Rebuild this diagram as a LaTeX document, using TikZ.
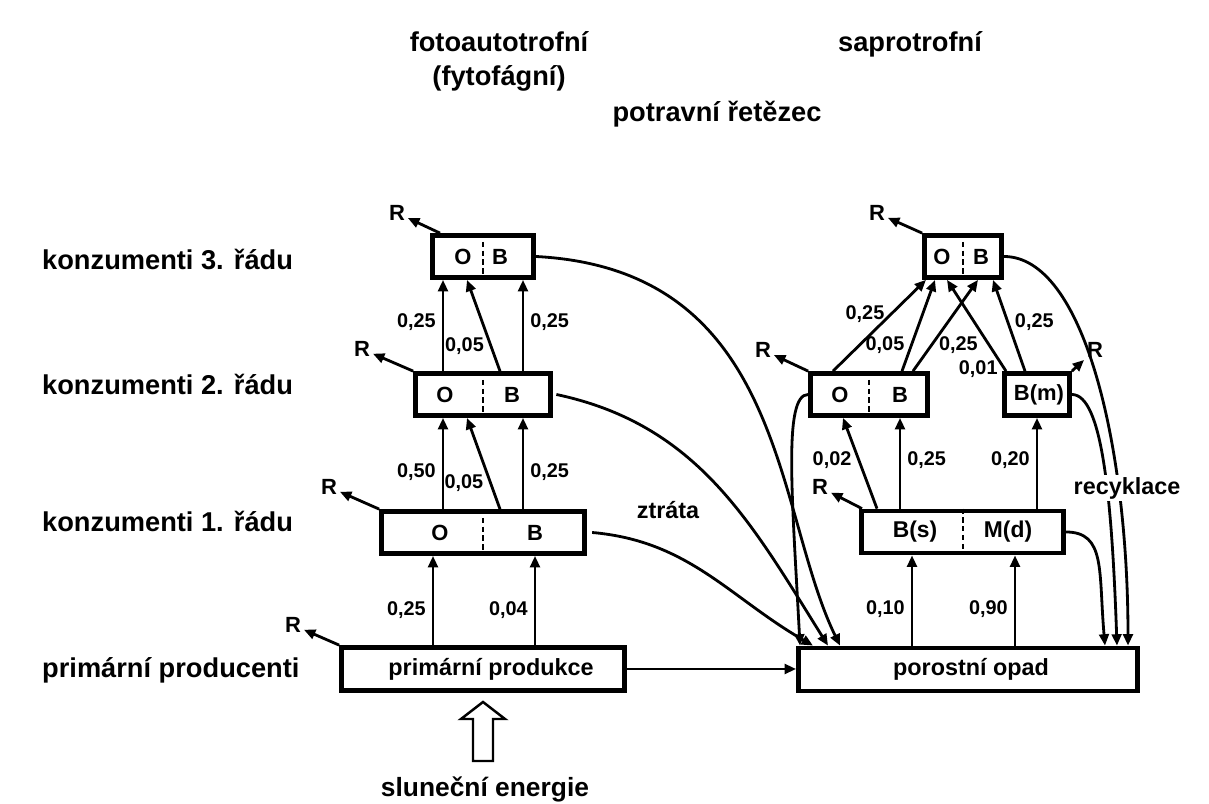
\documentclass[tikz,border=0pt]{standalone}
\usepackage{fontspec}
\setmainfont{Liberation Sans}
\usetikzlibrary{arrows.meta}

\begin{document}
\begin{tikzpicture}[x=0.2mm,y=0.2mm,>={Triangle[length=6.5pt,width=5.5pt]},
  level/.style={anchor=base west,font=\fontsize{15.5}{18}\selectfont\bfseries},
  head/.style={anchor=base,font=\fontsize{15.5}{18}\selectfont\bfseries},
  main box/.style={draw,line width=2.7pt,minimum height=8.4mm,inner sep=0pt},
  part/.style={font=\fontsize{12.5}{14}\selectfont\bfseries},
  big/.style={font=\fontsize{13.3}{15}\selectfont\bfseries},
  rate/.style={font=\fontsize{11.3}{13}\selectfont\bfseries},
  resp/.style={font=\fontsize{12.5}{14}\selectfont\bfseries,inner sep=1.5pt},
  flow/.style={->,line width=1.6pt},
  split/.style={dash pattern=on 3pt off 2pt,line width=0.9pt}]

\useasboundingbox (0,0) rectangle (1209,804);

% headings
\node[head] (auto) at (499,752) {fotoautotrofní};
\node[head] (fyto) at (499,718) {(fytofágní)};
\node[head] (sapro) at (910,752) {saprotrofní};
\node[head] (chain) at (717,682) {potravní řetězec};

% levels
\node[level] (k3) at (36,534) {konzumenti 3. řádu};
\node[level] (k2) at (36,409) {konzumenti 2. řádu};
\node[level] (k1) at (36,272) {konzumenti 1. řádu};
\node[level] (pp) at (36,126) {primární producenti};

% boxes, left chain
\node[main box,minimum width=20.2mm] (l3) at (483,547.5) {};
\node[main box,minimum width=27mm] (l2) at (483,409.5) {};
\node[main box,minimum width=40.6mm] (l1) at (483,271.5) {};
\node[main box,minimum width=56.6mm,minimum height=8.6mm] (prim) at (483,135) {};
% boxes, right chain
\node[main box,minimum width=15.4mm] (r3) at (963,547.5) {};
\node[main box,minimum width=23.4mm] (r2o) at (869,409.5) {};
\node[main box,minimum width=13mm] (r2m) at (1037,409.5) {};
\node[main box,minimum width=40.4mm] (r1) at (962.5,272) {};
\node[main box,minimum width=67.8mm,minimum height=8.6mm] (opad) at (968,134.5) {};

\foreach \b/\x in {l3/483,l2/483,l1/483,r3/963,r2o/869,r1/963}
  \draw[split] (\b.north -| \x,0) -- (\b.south -| \x,0);

\node[part] (l3o) at (463,547.5) {O};
\node[part] (l3b) at (500,547.5) {B};
\node[part] (l2o) at (445,409.5) {O};
\node[part] (l2b) at (512,409.5) {B};
\node[part] (l1o) at (440,271.5) {O};
\node[part] (l1b) at (535,271.5) {B};
\node[big] (primt) at (491,135) {primární produkce};
\node[part] (r3o) at (942,547.5) {O};
\node[part] (r3b) at (981,547.5) {B};
\node[part] (r2oo) at (840,409.5) {O};
\node[part] (r2ob) at (900,409.5) {B};
\node[part] (r2mb) at (1039,409.5) {B(m)};
\node[part,font=\fontsize{13}{15}\selectfont\bfseries] (r1s) at (915,272) {B(s)};
\node[part,font=\fontsize{13}{15}\selectfont\bfseries] (r1d) at (1008,272) {M(d)};
\node[big] (opadt) at (971,134.5) {porostní opad};

% grazing chain
\draw[flow] (prim.north -| 433,0) -- node[rate,left,pos=.39] {0,25} (l1.south -| 433,0);
\draw[flow] (prim.north -| 535,0) -- node[rate,left,pos=.39] {0,04} (l1.south -| 535,0);
\draw[flow] (l1.north -| 443,0) -- node[rate,left,pos=.41] {0,50} (l2.south -| 443,0);
\draw[flow] (l1.north -| 500,0) -- node[rate,left,pos=.29] {0,05} (l2.south -| 467,0);
\draw[flow] (l1.north -| 523,0) -- node[rate,right,pos=.41] {0,25} (l2.south -| 523,0);
\draw[flow] (l2.north -| 443,0) -- node[rate,left,pos=.54] {0,25} (l3.south -| 443,0);
\draw[flow] (l2.north -| 500,0) -- node[rate,left,pos=.27] {0,05} (l3.south -| 467,0);
\draw[flow] (l2.north -| 523,0) -- node[rate,right,pos=.54] {0,25} (l3.south -| 523,0);

% detritus chain
\draw[flow] (opad.north -| 912,0) -- node[rate,left,pos=.4] {0,10} (r1.south -| 912,0);
\draw[flow] (opad.north -| 1015,0) -- node[rate,left,pos=.4] {0,90} (r1.south -| 1015,0);
\draw[flow] (r1.north -| 877,0) -- node[rate,left,pos=.54] {0,02} (r2o.south -| 843,0);
\draw[flow] (r1.north -| 900,0) -- node[rate,right,pos=.54] {0,25} (r2o.south -| 900,0);
\draw[flow] (r1.north -| 1037,0) -- node[rate,left,pos=.54] {0,20} (r2m.south -| 1037,0);
\draw[flow] (r2o.north -| 833,0) -- node[rate,left,pos=.63] {0,25} (r3.south -| 926,0);
\draw[flow] (r2o.north -| 902,0) -- node[rate,left,pos=.29] {0,05} (r3.south -| 935,0);
\draw[flow] (r2o.north -| 913,0) -- node[rate,right,pos=.29] {0,25} (r3.south -| 978,0);
\draw[flow] (r2m.north -| 1006,0) -- node[rate,left,pos=.02] {0,01} (r3.south -| 947,0);
\draw[flow] (r2m.north -| 1025,0) -- node[rate,right,pos=.54] {0,25} (r3.south -| 993,0);

% respiration
\node[resp] (rl3) at (397,591) {R};
\node[resp] (rl2) at (362,455) {R};
\node[resp] (rl1) at (329,317) {R};
\node[resp] (rpr) at (293,179) {R};
\node[resp] (rr3) at (877,591) {R};
\node[resp] (rr2o) at (763,454) {R};
\node[resp] (rr2m) at (1095,454) {R};
\node[resp] (rr1) at (820,317) {R};
\draw[flow] (l3.north -| 440,0) -- (rl3);
\draw[flow] (l2.north west) -- (rl2);
\draw[flow] (l1.north west) -- (rl1);
\draw[flow] (prim.north west) -- (rpr);
\draw[flow] (r3.north west) -- (rr3);
\draw[flow] (r2o.north west) -- (rr2o);
\draw[flow] (r2m.north east) -- (rr2m);
\draw[flow] (r1.north -| 862,0) -- (rr1);

% losses to litter
\draw[flow] (prim.east) -- (prim.east -| opad.west);
\draw[flow] ([xshift=3pt]l1.east) to[out=-5,in=150] (opad.north -| 813,0);
\draw[flow] ([xshift=2pt]l2.east) to[out=-12,in=122] (opad.north -| 828,0);
\draw[flow] (l3.east) to[out=-3,in=116,out distance=50mm,in distance=30mm] (opad.north -| 840,0);
\draw[flow] (r2o.west) to[out=180,in=93,out distance=5mm,in distance=30mm] (opad.north -| 800,0);
\draw[flow] (r1.east) to[out=0,in=95,out distance=8mm,in distance=15mm] (opad.north -| 1105,0);
\draw[flow] (r2m.east) to[out=0,in=92,out distance=6mm,in distance=30mm] (opad.north -| 1117,0);
\draw[flow] (r3.east) to[out=0,in=90,out distance=16mm,in distance=40mm] (opad.north -| 1128,0);

\node[big] (loss) at (668,294) {ztráta};
\node[big,fill=white,inner sep=1pt] (recyc) at (1127,316) {recyklace};

% sun
\node[head,font=\fontsize{15}{18}\selectfont\bfseries] (sun) at (485,7) {sluneční energie};
\draw[line width=1.4pt] (473,43) -- (473,85) -- (461,85) -- (483,102) -- (505,85) -- (493,85) -- (493,43) -- cycle;
\end{tikzpicture}
\end{document}
